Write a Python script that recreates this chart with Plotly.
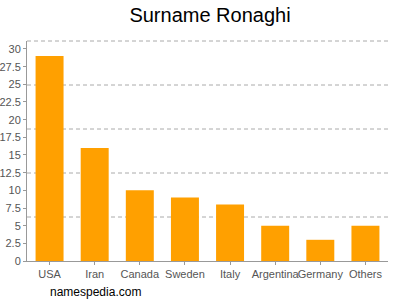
import plotly.graph_objects as go

countries = ["USA", "Iran", "Canada", "Sweden", "Italy", "Argentina", "Germany", "Others"]
counts = [29, 16, 10, 9, 8, 5, 3, 5]
y_ticks = [0, 2.5, 5, 7.5, 10, 12.5, 15, 17.5, 20, 22.5, 25, 27.5, 30]
y_tick_text = ["0", "2.5", "5", "7.5", "10", "12.5", "15", "17.5", "20", "22.5", "25", "27.5", "30"]
y_max = 31.13
grid_fracs = [0.2, 0.4, 0.6, 0.8, 1.0]

fig = go.Figure()
fig.add_trace(go.Bar(
    x=countries, y=counts,
    marker=dict(color="#ffa000", line=dict(width=0)),
    hoverinfo="x+y",
))

for f in grid_fracs:
    fig.add_shape(type="line", xref="x domain", yref="y domain",
                  x0=0, x1=1, y0=f, y1=f, layer="below",
                  line=dict(color="#aaa", width=1, dash="4px,3px"))

font_family = "Liberation Sans, Arial, sans-serif"
fig.update_layout(
    width=400, height=300,
    margin=dict(l=27, r=12, t=41, b=39),
    paper_bgcolor="white", plot_bgcolor="white",
    showlegend=False,
    bargap=0.38,
    font=dict(family=font_family, size=11, color="#555"),
    title=dict(text="Surname Ronaghi", x=0.525, xanchor="center", y=0.95, yanchor="middle",
               font=dict(family=font_family, size=20, color="#000")),
    xaxis=dict(
        showline=True, linecolor="#999", linewidth=1,
        ticks="outside", ticklen=3, tickcolor="#999",
        tickfont=dict(size=11, color="#555"), tickangle=0, automargin=False,
        showgrid=False, zeroline=False,
    ),
    yaxis=dict(
        range=[0, y_max],
        tickmode="array", tickvals=y_ticks, ticktext=y_tick_text,
        showgrid=False, zeroline=False, automargin=False,
        showline=True, linecolor="#999", linewidth=1,
        ticks="outside", ticklen=3, tickcolor="#999",
        tickfont=dict(size=11, color="#555"),
    ),
    annotations=[dict(
        text="namespedia.com", xref="paper", yref="paper",
        x=0.058, y=-0.141, xanchor="left", yanchor="middle",
        showarrow=False, font=dict(family=font_family, size=12, color="#000"),
    )],
)

fig.write_html("out.html")
